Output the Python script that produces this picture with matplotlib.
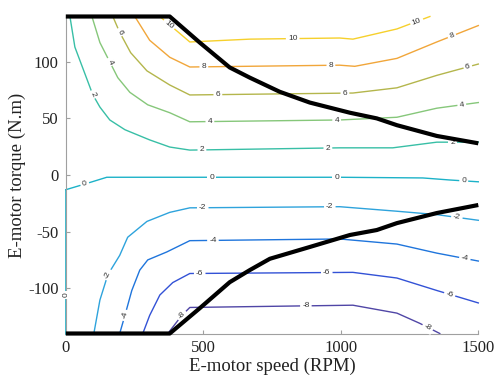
import numpy as np
import matplotlib.pyplot as plt

plt.rcParams['axes.unicode_minus'] = False

# contour levels (speed in RPM, torque in N.m)
levels = [10, 8, 6, 4, 2, 0, -2, -4, -6, -8]

speed_10 = [342, 451, 669, 996, 1044, 1204, 1324]
torque_10 = [140, 117.5, 120, 121, 120, 129, 140]

speed_8 = [251, 305, 378, 451, 996, 1051, 1204, 1349, 1500]
torque_8 = [140, 119, 104, 95.4, 97, 96, 103, 117.5, 132]

speed_6 = [171, 196, 236, 295, 378, 451, 1044, 1204, 1349, 1500]
torque_6 = [140, 126, 108, 92, 79.5, 70.7, 72.4, 77, 88, 98]

speed_4 = [95, 124, 189, 233, 298, 378, 451, 996, 1204, 1349, 1500]
torque_4 = [140, 117, 86, 73, 62, 55, 47, 48.6, 51, 59, 64]

speed_2 = [15, 33, 98, 124, 160, 215, 305, 378, 451, 996, 1189, 1349, 1500]
torque_2 = [140, 113, 71, 60, 48.6, 40, 31, 24.7, 22, 24, 24, 29, 29]

speed_0 = [0, 69, 149, 996, 1298, 1396, 1500]
torque_0 = [-13, -8, -2, -2, -2.6, -4.4, -6]
speed_0_edge = [0, 0]
torque_0_edge = [-13, -140]

speed_m2 = [102, 124, 153, 196, 225, 295, 378, 451, 996, 1204, 1349, 1500]
torque_m2 = [-140, -110.5, -88, -71, -55, -41, -33, -29, -28, -32, -35, -40]

speed_m4 = [196, 215, 240, 269, 298, 367, 451, 996, 1204, 1349, 1500]
torque_m4 = [-140, -124, -102, -84, -75, -68, -58, -56.5, -61, -69, -76]

speed_m6 = [280, 305, 342, 389, 451, 1044, 1204, 1349, 1500]
torque_m6 = [-140, -124, -106, -95, -87, -86, -91, -102, -113]

speed_m8 = [371, 422, 451, 1044, 1204, 1287, 1360]
torque_m8 = [-140, -124, -117, -115, -122, -131, -140]

# speeds where the inline labels sit
labels_10 = [376, 825, 1276]
labels_8 = [502, 964, 1404]
labels_6 = [196, 553, 1015, 1462]
labels_4 = [160, 524, 985, 1440]
labels_2 = [98, 495, 953, 1407]
labels_0 = [69, 531, 985, 1447]
labels_m2 = [153, 498, 960, 1422]
labels_m4 = [215, 535, 1451]
labels_m6 = [487, 949, 1396]
labels_m8 = [422, 873, 1316]

# torque envelope
env_speed_top = [0, 378, 487, 596, 669, 778, 887, 1033, 1131, 1204, 1349, 1500]
env_torque_top = [140, 140, 117, 95, 86, 73.5, 64, 55, 50, 44, 34.5, 28]
env_speed_bot = [0, 378, 487, 596, 669, 742, 887, 1033, 1131, 1204, 1349, 1500]
env_torque_bot = [-140, -140, -117.7, -94.7, -84, -74, -63.6, -53, -48.6, -42.5, -33.6, -26.5]

colors = ['#f6d02c', '#f1a63a', '#b4b64c', '#86c77a', '#38bfa6',
          '#1cb2c8', '#2ea3dc', '#1f75dc', '#3352d6', '#5046a6']

curves = [(speed_10, torque_10, labels_10), (speed_8, torque_8, labels_8),
          (speed_6, torque_6, labels_6), (speed_4, torque_4, labels_4),
          (speed_2, torque_2, labels_2), (speed_0, torque_0, labels_0),
          (speed_m2, torque_m2, labels_m2), (speed_m4, torque_m4, labels_m4),
          (speed_m6, torque_m6, labels_m6), (speed_m8, torque_m8, labels_m8)]

fig = plt.figure(figsize=(4.96, 3.83), dpi=100)
ax = fig.add_axes([65.8 / 496, 49.5 / 383, 412.5 / 496, 317 / 383])
ax.set_xlim(0, 1500)
ax.set_ylim(-140, 140)


def angle_at(xs, ys, x):
    p0 = ax.transData.transform((x - 2, np.interp(x - 2, xs, ys)))
    p1 = ax.transData.transform((x + 2, np.interp(x + 2, xs, ys)))
    return np.degrees(np.arctan2(p1[1] - p0[1], p1[0] - p0[0]))


lab_style = dict(fontsize=6, color='#333333', ha='center', va='center',
                 family='Liberation Sans', rotation_mode='anchor', zorder=3,
                 bbox=dict(boxstyle='square,pad=0.25', fc='white', ec='none'))

for lev, col, (xs, ys, labs) in zip(levels, colors, curves):
    ax.plot(xs, ys, color=col, lw=1.0, zorder=2, clip_on=False)
    for xl in labs:
        yl = np.interp(xl, xs, ys)
        ax.text(xl, yl, str(lev), rotation=angle_at(xs, ys, xl), **lab_style)

# zero contour running down the left edge
ax.plot(speed_0_edge, torque_0_edge, color=colors[5], lw=1.2, zorder=2, clip_on=False)
ax.text(0, -106, '0', rotation=90, clip_on=False, **lab_style)

ax.plot(env_speed_top, env_torque_top, color='black', lw=3.0, zorder=5,
        clip_on=False, solid_capstyle='butt')
ax.plot(env_speed_bot, env_torque_bot, color='black', lw=3.0, zorder=5,
        clip_on=False, solid_capstyle='butt')

ax.spines['top'].set_visible(False)
ax.spines['right'].set_visible(False)
for s in ['left', 'bottom']:
    ax.spines[s].set_color('#a0a0a0')
    ax.spines[s].set_linewidth(0.8)

ax.set_xticks([0, 500, 1000, 1500])
ax.set_yticks([-100, -50, 0, 50, 100])
ax.tick_params(direction='in', length=3, width=0.8, color='#a0a0a0',
               labelcolor='#222222', labelsize=12, pad=5)
for t in ax.get_xticklabels() + ax.get_yticklabels():
    t.set_family('Liberation Serif')

ax.set_xlabel('E-motor speed (RPM)', family='Liberation Serif', fontsize=13.5,
              color='#222222', labelpad=1)
ax.set_ylabel('E-motor torque (N.m)', family='Liberation Serif', fontsize=13.5,
              color='#222222', labelpad=2)

fig.savefig('out.png', dpi=100)
